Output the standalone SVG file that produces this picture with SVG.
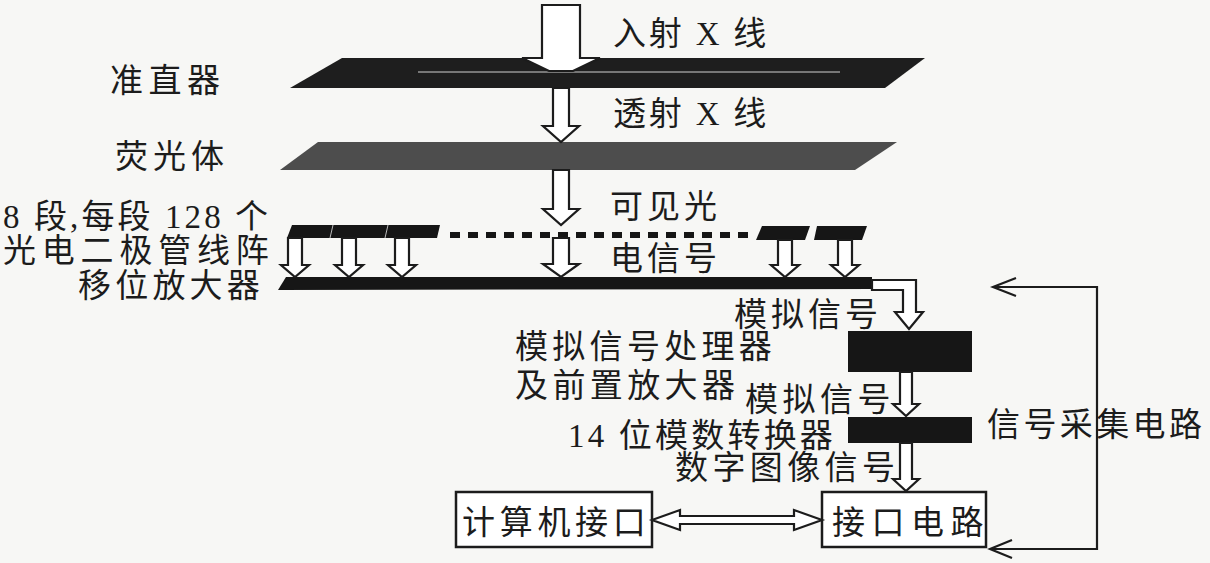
<svg xmlns="http://www.w3.org/2000/svg" width="1210" height="563" viewBox="0 0 1210 563">
<style>
  .t { font-family: "Liberation Serif", "Noto Sans CJK SC", serif; font-size: 33px; fill: #1c1c1c; letter-spacing: 4px; }
  .arr { fill: #ffffff; stroke: #1c1c1c; stroke-width: 2.2; stroke-linejoin: miter; }
  .ln { fill: none; stroke: #1c1c1c; stroke-width: 2.2; }
  .blk { fill: #161616; }
  .box { fill: #ffffff; stroke: #1c1c1c; stroke-width: 2.5; }
</style>
<rect x="0" y="0" width="1210" height="563" fill="#f7f7f5"/>

<g id="collimator">
  <polygon points="290,88 342,58 925,58 885,88" fill="#1e1e1e"/>
  <line x1="418" y1="72" x2="840" y2="72" stroke="#cfcfcf" stroke-width="1"/>
  <text class="t" x="110" y="92" style="letter-spacing:5.5px">准直器</text>
</g>

<g id="phosphor">
  <polygon points="280,170 318,142 897,142 855,170" fill="#4d4d4d"/>
  <text class="t" x="115" y="168" style="letter-spacing:5px">荧光体</text>
</g>

<g id="photodiode-array">
  <polygon points="287,238 292,225 440,225 437,238" class="blk"/>
  <line x1="333" y1="225" x2="330" y2="238" stroke="#bbbbbb" stroke-width="1"/>
  <line x1="388" y1="225" x2="385" y2="238" stroke="#bbbbbb" stroke-width="1"/>
  <line x1="450" y1="235" x2="750" y2="235" stroke="#161616" stroke-width="6" stroke-dasharray="10 8"/>
  <polygon points="756,240 762,226 810,226 805,240" class="blk"/>
  <polygon points="814,240 817,226 867,226 862,240" class="blk"/>
  <text class="t" x="3" y="228" style="letter-spacing:3.1px">8 段,每段 128 个</text>
  <text class="t" x="3" y="262" style="letter-spacing:5.8px">光电二极管线阵</text>
</g>

<g id="shift-amplifier">
  <polygon points="278,290 286,277 872,277 872,289" class="blk"/>
  <text class="t" x="78" y="297" style="letter-spacing:4.2px">移位放大器</text>
</g>

<g id="analog-processor">
  <rect x="848" y="331" width="124" height="41" class="blk"/>
  <text class="t" x="515" y="358" style="letter-spacing:4.3px">模拟信号处理器</text>
  <text class="t" x="515" y="397" style="letter-spacing:4.4px">及前置放大器</text>
</g>

<g id="adc">
  <rect x="848" y="417" width="124" height="26" class="blk"/>
  <text class="t" x="568" y="447" style="letter-spacing:3.2px">14 位模数转换器</text>
</g>

<g id="pc-interface">
  <rect x="456" y="492" width="196" height="55" class="box"/>
  <text class="t" x="462" y="534" style="letter-spacing:4.7px">计算机接口</text>
</g>

<g id="interface-circuit">
  <rect x="822" y="492" width="164" height="55" class="box"/>
  <text class="t" x="832" y="534" style="letter-spacing:6.5px">接口电路</text>
</g>

<g id="connectors">
  <!-- incident X-ray -->
  <path class="arr" d="M542,5 H580 V58 H600 L573,71 H549 L522,58 H542 Z"/>
  <!-- transmitted X-ray -->
  <path class="arr" d="M553,88 H569 V126 H579 L561,142 L543,126 H553 Z"/>
  <!-- visible light -->
  <path class="arr" d="M553,170 H569 V209 H579 L561,225 L543,209 H553 Z"/>
  <!-- electrical signal -->
  <path class="arr" d="M553,238 H569 V264 H579 L561,277 L543,264 H553 Z"/>
  <!-- segment arrows -->
  <path class="arr" d="M288,238 H302 V265 H309 L295,277 L281,265 H288 Z"/>
  <path class="arr" d="M342,238 H356 V265 H363 L349,277 L335,265 H342 Z"/>
  <path class="arr" d="M395,238 H409 V265 H416 L402,277 L388,265 H395 Z"/>
  <path class="arr" d="M778,240 H792 V265 H799 L785,277 L771,265 H778 Z"/>
  <path class="arr" d="M838,240 H852 V265 H859 L845,277 L831,265 H838 Z"/>
  <!-- bend arrow from shift amplifier -->
  <path class="arr" d="M872,280 H916 V312 H923 L909,329 L895,312 H903 V290 H872 Z"/>
  <!-- processor to ADC -->
  <path class="arr" d="M900,372 H912 V404 H919 L906,416 L893,404 H900 Z"/>
  <!-- ADC to interface circuit -->
  <path class="arr" d="M900,443 H912 V479 H919 L906,491 L893,479 H900 Z"/>
  <!-- double arrow between boxes -->
  <path class="arr" d="M652,520 L680,510 V516 H794 V510 L822,520 L794,530 V524 H680 V530 Z"/>
  <!-- feedback loop -->
  <polyline class="ln" points="993,287 1097,287 1097,549 990,549"/>
  <polyline class="ln" points="1016,278 993,287 1016,296"/>
  <polyline class="ln" points="1012,540 990,549 1012,558"/>
</g>

<g id="labels">
  <text class="t" x="613" y="45" style="letter-spacing:2.8px">入射 X 线</text>
  <text class="t" x="613" y="125" style="letter-spacing:2.8px">透射 X 线</text>
  <text class="t" x="610" y="218">可见光</text>
  <text class="t" x="610" y="270">电信号</text>
  <text class="t" x="734" y="326">模拟信号</text>
  <text class="t" x="745" y="411" style="letter-spacing:4.5px">模拟信号</text>
  <text class="t" x="675" y="479" style="letter-spacing:4.4px">数字图像信号</text>
  <text class="t" x="987" y="436" style="letter-spacing:3.4px">信号采集电路</text>
</g>
</svg>
